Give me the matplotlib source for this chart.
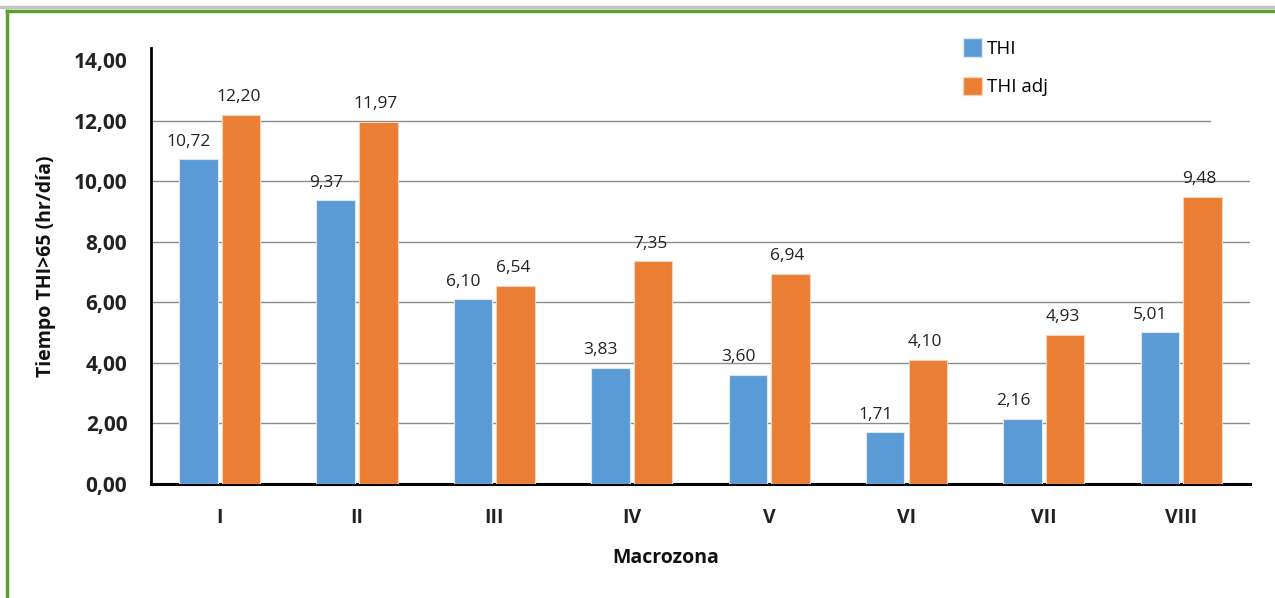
import matplotlib
matplotlib.use("Agg")
import matplotlib.pyplot as plt
from matplotlib.lines import Line2D
from matplotlib.patches import Patch
import numpy as np

categories = ["I", "II", "III", "IV", "V", "VI", "VII", "VIII"]
thi = [10.72, 9.37, 6.10, 3.83, 3.60, 1.71, 2.16, 5.01]
thi_adj = [12.20, 11.97, 6.54, 7.35, 6.94, 4.10, 4.93, 9.48]
yticks = [0, 2, 4, 6, 8, 10, 12, 14]

plt.rcParams['font.family'] = ['Open Sans', 'DejaVu Sans']

blue = "#5B9BD5"
orange = "#E97E34"

fig = plt.figure(figsize=(12.75, 5.98), dpi=100)
ax = fig.add_axes([0.1184, 1 - 484 / 598, 0.8619, (484 - 48) / 598])

x = np.arange(len(categories))
w = 0.28
off = 0.155
b1 = ax.bar(x - off, thi, w, color=blue, edgecolor="#DCE9F5", linewidth=0.8, zorder=3)
b2 = ax.bar(x + off, thi_adj, w, color=orange, edgecolor="#F6D3BB", linewidth=0.8, zorder=3)

def fmt(v):
    return f"{v:.2f}".replace(".", ",")

for rect, v in zip(b1, thi):
    ax.annotate(fmt(v), (rect.get_x() + rect.get_width() / 2 - 0.07, v), xytext=(0, 7),
                textcoords="offset points", ha="center", va="bottom", fontsize=12.5, color="#222222")
for rect, v in zip(b2, thi_adj):
    ax.annotate(fmt(v), (rect.get_x() + rect.get_width() / 2 - 0.02, v), xytext=(0, 7),
                textcoords="offset points", ha="center", va="bottom", fontsize=12.5, color="#222222")

ax.set_xlim(-0.5, len(categories) - 0.5)
ax.set_ylim(0, 14.4)
ax.set_yticks(yticks)
ax.set_yticklabels([fmt(t) for t in yticks], fontsize=15, fontweight="bold", color="#222222")
ax.set_xticks(x)
ax.set_xticklabels(categories, fontsize=14, fontweight="bold", color="#222222")
ax.tick_params(axis="both", length=0)
ax.tick_params(axis="y", pad=17)
ax.tick_params(axis="x", pad=17)

for t in yticks[1:-1]:
    xmax = 0.964 if t == 12 else 1.0
    ax.axhline(t, xmin=0, xmax=xmax, color="#8C8C8C", linewidth=1.0, zorder=1)

for s in ["top", "right"]:
    ax.spines[s].set_visible(False)
ax.spines["left"].set_linewidth(2)
ax.spines["bottom"].set_linewidth(2.2)
ax.spines["left"].set_color("black")
ax.spines["bottom"].set_color("black")

ax.set_ylabel("Tiempo THI>65 (hr/día)", fontsize=14, fontweight="bold", labelpad=13, color="#111111")
ax.set_xlabel("Macrozona", fontsize=14, fontweight="bold", color="#111111")
ax.xaxis.set_label_coords((666 - 151) / 1099, -(548 - 484) / 436)

handles = [Patch(facecolor=blue, edgecolor="#DCE9F5"), Patch(facecolor=orange, edgecolor="#F6D3BB")]
fig.legend(handles, ["THI", "THI adj"], loc="upper left", bbox_to_anchor=(0.742, 0.964),
           frameon=False, fontsize=13.5, handlelength=1.0, handleheight=1.15,
           handletextpad=0.3, labelspacing=1.0)

# decorative frame lines
fig.add_artist(Line2D([0, 1], [1 - 7 / 598, 1 - 7 / 598], transform=fig.transFigure,
                      color="#C4C4C4", linewidth=2.5))
fig.add_artist(Line2D([7 / 1275, 1], [1 - 10.5 / 598, 1 - 10.5 / 598], transform=fig.transFigure,
                      color="#5E9E2C", linewidth=2.5))
fig.add_artist(Line2D([7 / 1275, 7 / 1275], [0, 1 - 10.5 / 598], transform=fig.transFigure,
                      color="#5E9E2C", linewidth=2.5))

fig.savefig("out.png", dpi=100)
